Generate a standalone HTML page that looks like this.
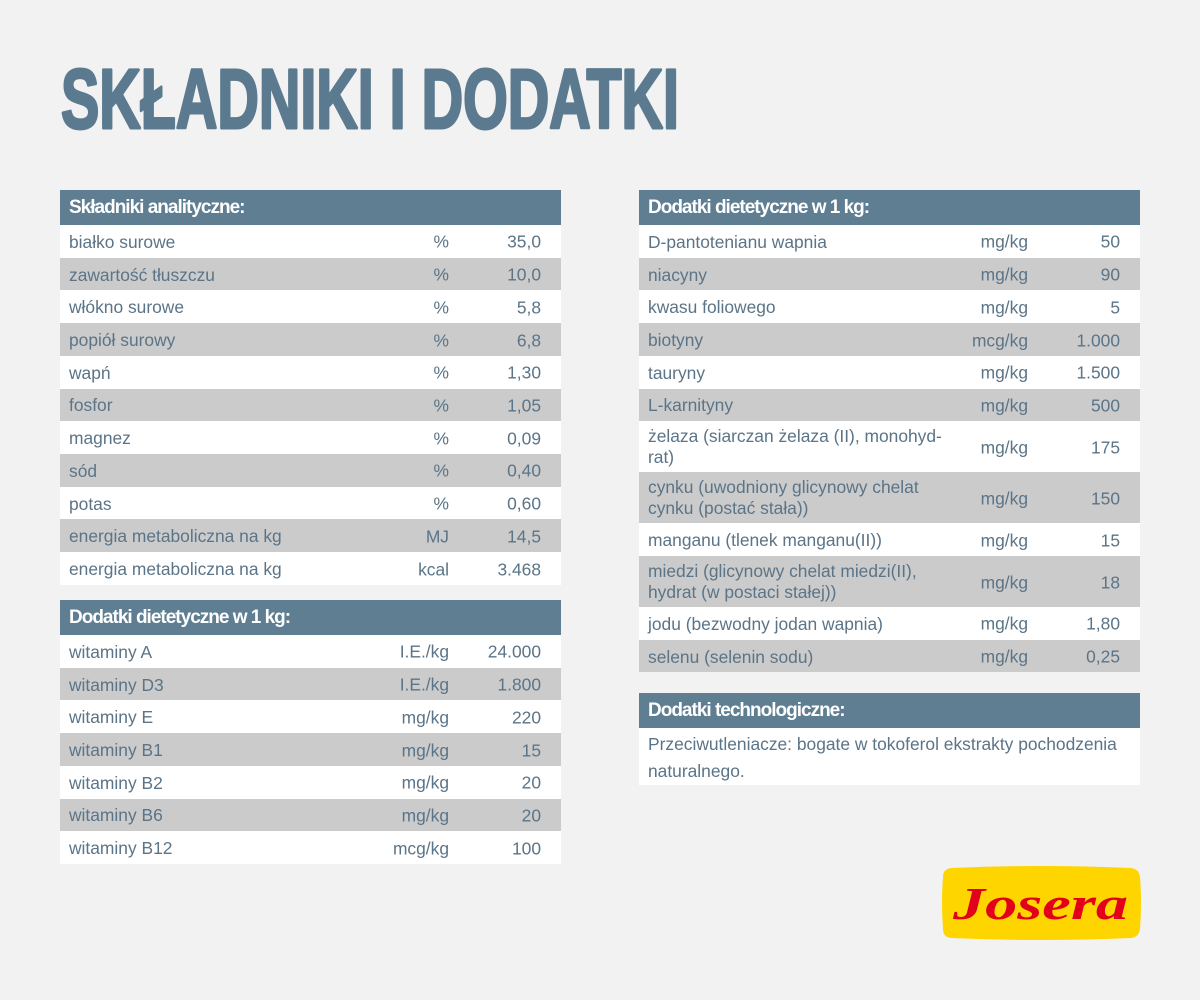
<!DOCTYPE html>
<html>
<head>
<meta charset="utf-8">
<style>
  html,body{margin:0;padding:0;}
  body{width:1200px;height:1000px;background:#f2f2f2;position:relative;overflow:hidden;font-family:"Liberation Sans",sans-serif;}
  .tbl{position:absolute;width:501px;}
  .hd{height:35px;background:#5f7e92;color:#fff;font-weight:bold;font-size:19px;letter-spacing:-1px;padding-left:9px;line-height:36px;box-sizing:border-box;white-space:nowrap;}
  .r{position:relative;height:32.73px;background:#fff;color:#5b7487;font-size:17.4px;display:flex;align-items:center;padding-left:9px;padding-top:2px;box-sizing:border-box;white-space:nowrap;}
  .r.g{background:#cbcbcb;}
  .r.d{height:51px;line-height:21px;padding-top:1px;}
  .r .u{position:absolute;right:112px;top:50%;transform:translateY(-45%);}
  .r .v{position:absolute;right:20px;top:50%;transform:translateY(-45%);}
  .txt{background:#fff;color:#5b7487;font-size:17.4px;line-height:26.5px;padding:3px 9px 2px 9px;box-sizing:border-box;height:57px;}
</style>
</head>
<body>

<svg width="1200" height="1000" style="position:absolute;left:0;top:0;">
  <text x="61" y="128" font-family="Liberation Sans, sans-serif" font-weight="bold" font-size="84" fill="#5b7a8f" stroke="#5b7a8f" stroke-width="3" stroke-linejoin="round" textLength="618" lengthAdjust="spacingAndGlyphs">SKŁADNIKI I DODATKI</text>
  <path d="M951 868 Q1041 864 1131 868 Q1139 869 1140 877 Q1142 903 1140 929 Q1139 937 1131 938 Q1041 942 951 938 Q943 937 943 929 Q941 903 943 877 Q943 869 951 868 Z" fill="#ffd500"/>
  <text x="953" y="919" font-family="Liberation Serif, serif" font-weight="bold" font-style="italic" font-size="46" fill="#e2001a" textLength="175" lengthAdjust="spacingAndGlyphs">Josera</text>
</svg>

<!-- Left table 1 -->
<div class="tbl" style="left:60px;top:190px;">
  <div class="hd">Składniki analityczne:</div>
  <div class="r">białko surowe<span class="u">%</span><span class="v">35,0</span></div>
  <div class="r g">zawartość tłuszczu<span class="u">%</span><span class="v">10,0</span></div>
  <div class="r">włókno surowe<span class="u">%</span><span class="v">5,8</span></div>
  <div class="r g">popiół surowy<span class="u">%</span><span class="v">6,8</span></div>
  <div class="r">wapń<span class="u">%</span><span class="v">1,30</span></div>
  <div class="r g">fosfor<span class="u">%</span><span class="v">1,05</span></div>
  <div class="r">magnez<span class="u">%</span><span class="v">0,09</span></div>
  <div class="r g">sód<span class="u">%</span><span class="v">0,40</span></div>
  <div class="r">potas<span class="u">%</span><span class="v">0,60</span></div>
  <div class="r g">energia metaboliczna na kg<span class="u">MJ</span><span class="v">14,5</span></div>
  <div class="r">energia metaboliczna na kg<span class="u">kcal</span><span class="v">3.468</span></div>
</div>

<!-- Left table 2 -->
<div class="tbl" style="left:60px;top:600px;">
  <div class="hd">Dodatki dietetyczne w 1 kg:</div>
  <div class="r">witaminy A<span class="u">I.E./kg</span><span class="v">24.000</span></div>
  <div class="r g">witaminy D3<span class="u">I.E./kg</span><span class="v">1.800</span></div>
  <div class="r">witaminy E<span class="u">mg/kg</span><span class="v">220</span></div>
  <div class="r g">witaminy B1<span class="u">mg/kg</span><span class="v">15</span></div>
  <div class="r">witaminy B2<span class="u">mg/kg</span><span class="v">20</span></div>
  <div class="r g">witaminy B6<span class="u">mg/kg</span><span class="v">20</span></div>
  <div class="r">witaminy B12<span class="u">mcg/kg</span><span class="v">100</span></div>
</div>

<!-- Right table -->
<div class="tbl" style="left:639px;top:190px;">
  <div class="hd">Dodatki dietetyczne w 1 kg:</div>
  <div class="r">D-pantotenianu wapnia<span class="u">mg/kg</span><span class="v">50</span></div>
  <div class="r g">niacyny<span class="u">mg/kg</span><span class="v">90</span></div>
  <div class="r">kwasu foliowego<span class="u">mg/kg</span><span class="v">5</span></div>
  <div class="r g">biotyny<span class="u">mcg/kg</span><span class="v">1.000</span></div>
  <div class="r">tauryny<span class="u">mg/kg</span><span class="v">1.500</span></div>
  <div class="r g">L-karnityny<span class="u">mg/kg</span><span class="v">500</span></div>
  <div class="r d"><span>żelaza (siarczan żelaza (II), monohyd-<br>rat)</span><span class="u">mg/kg</span><span class="v">175</span></div>
  <div class="r g d"><span>cynku (uwodniony glicynowy chelat<br>cynku (postać stała))</span><span class="u">mg/kg</span><span class="v">150</span></div>
  <div class="r">manganu (tlenek manganu(II))<span class="u">mg/kg</span><span class="v">15</span></div>
  <div class="r g d"><span>miedzi (glicynowy chelat miedzi(II),<br>hydrat (w postaci stałej))</span><span class="u">mg/kg</span><span class="v">18</span></div>
  <div class="r">jodu (bezwodny jodan wapnia)<span class="u">mg/kg</span><span class="v">1,80</span></div>
  <div class="r g">selenu (selenin sodu)<span class="u">mg/kg</span><span class="v">0,25</span></div>
</div>

<!-- Tech -->
<div class="tbl" style="left:639px;top:693px;">
  <div class="hd">Dodatki technologiczne:</div>
  <div class="txt">Przeciwutleniacze: bogate w tokoferol ekstrakty pochodzenia<br>naturalnego.</div>
</div>

</body>
</html>
